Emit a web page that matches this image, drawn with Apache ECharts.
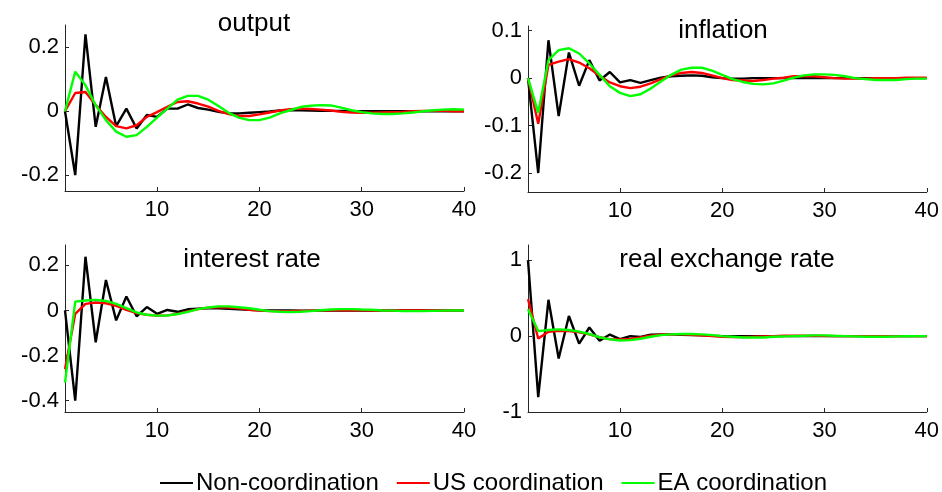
<!DOCTYPE html>
<html>
<head>
<meta charset="utf-8">
<script src="https://cdn.jsdelivr.net/npm/echarts@6/dist/echarts.min.js"></script>
<style>
html,body{margin:0;padding:0;background:#fff;}
#c{width:942px;height:492px;}
</style>
</head>
<body>
<div id="c"></div>
<script>
const periods = [1,2,3,4,5,6,7,8,9,10,11,12,13,14,15,16,17,18,19,20,21,22,23,24,25,26,27,28,29,30,31,32,33,34,35,36,37,38,39,40];
const xTicks = [10,20,30,40];
const seriesNames = ['Non-coordination','US coordination','EA coordination'];
const panelTitles = ['output','inflation','interest rate','real exchange rate'];

const outputNon = [0,-0.200,0.241,-0.049,0.107,-0.047,0.008,-0.054,-0.012,-0.018,0.008,0.008,0.021,0.010,0.005,-0.002,-0.007,-0.007,-0.005,-0.003,-0.001,0.002,0.003,0.003,0.002,0.001,0.001,0.001,0,0,0,0,0,0,0,0,0,0,0,0];
const outputUS = [0,0.057,0.060,0.019,-0.018,-0.047,-0.054,-0.044,-0.018,-0.003,0.014,0.029,0.031,0.024,0.014,0.001,-0.009,-0.015,-0.015,-0.010,-0.004,0.002,0.006,0.008,0.007,0.005,0.002,-0.002,-0.004,-0.005,-0.005,-0.004,-0.003,-0.002,0,0.001,0.001,0.001,0,0];
const outputEA = [0,0.124,0.081,0.019,-0.028,-0.064,-0.080,-0.075,-0.049,-0.020,0.008,0.036,0.048,0.048,0.036,0.016,-0.005,-0.020,-0.028,-0.028,-0.020,-0.007,0.003,0.013,0.017,0.019,0.018,0.011,0.003,-0.003,-0.007,-0.009,-0.009,-0.007,-0.004,0,0.003,0.005,0.006,0.005];

const inflNon = [0,-0.200,0.080,-0.080,0.054,-0.016,0.038,-0.005,0.013,-0.009,-0.004,-0.010,-0.004,0.001,0.004,0.005,0.006,0.005,0.002,0,-0.001,-0.001,0,0,0,0,0,0,0,0,0,0,0,0,0,0,0,0,0,0];
const inflUS = [0,-0.096,0.028,0.035,0.040,0.033,0.021,0.005,-0.009,-0.017,-0.021,-0.018,-0.011,-0.002,0.006,0.011,0.013,0.011,0.006,0,-0.004,-0.005,-0.006,-0.004,-0.001,0.001,0.004,0.004,0.004,0.002,0,-0.001,-0.001,-0.001,0,0,0,0.001,0.001,0.001];
const inflEA = [0,-0.073,0.038,0.059,0.063,0.052,0.031,0.007,-0.017,-0.031,-0.038,-0.034,-0.022,-0.007,0.007,0.018,0.022,0.022,0.016,0.007,-0.002,-0.008,-0.012,-0.013,-0.011,-0.005,0.001,0.006,0.008,0.008,0.007,0.004,0,-0.002,-0.004,-0.004,-0.004,-0.002,-0.001,-0.001];

const rateNon = [0,-0.400,0.238,-0.141,0.135,-0.044,0.062,-0.026,0.015,-0.015,0.002,-0.006,0.005,0.008,0.010,0.009,0.007,0.005,0.003,0.001,0,0,0,-0.001,-0.001,0,0,0,0,0,0,0,0,0,0,0,0,0,0,0];
const rateUS = [-0.260,-0.015,0.029,0.035,0.032,0.020,0.003,-0.012,-0.019,-0.023,-0.022,-0.015,-0.004,0.006,0.012,0.015,0.013,0.009,0.003,-0.001,-0.003,-0.003,-0.003,-0.002,-0.001,0.001,0.001,0.001,0.001,0.001,0,0,0,0,0,0,0,0,0,0];
const rateEA = [-0.320,0.039,0.044,0.047,0.042,0.029,0.010,-0.009,-0.019,-0.023,-0.023,-0.016,-0.006,0.006,0.013,0.018,0.018,0.014,0.010,0.003,-0.003,-0.006,-0.007,-0.006,-0.003,0.001,0.004,0.006,0.006,0.004,0.003,0,-0.001,-0.003,-0.003,-0.003,-0.002,-0.001,0,0];

const rerNon = [1.000,-0.805,0.478,-0.296,0.265,-0.100,0.113,-0.062,0.020,-0.040,0,-0.010,0.018,0.022,0.022,0.018,0.013,0.009,0.004,0,-0.002,-0.003,-0.003,-0.002,-0.001,0,0,0,0,0,0,0,0,0,0,0,0,0,0,0];
const rerUS = [0.487,-0.031,0.058,0.071,0.066,0.049,0.022,-0.015,-0.040,-0.044,-0.037,-0.018,0.004,0.018,0.022,0.022,0.018,0.009,0,-0.009,-0.013,-0.013,-0.009,-0.004,0,0.004,0.004,0.004,0.004,0.003,0,0,0,0,0,0,0,0,0,0];
const rerEA = [0.354,0.066,0.080,0.088,0.080,0.058,0.027,-0.015,-0.044,-0.058,-0.053,-0.035,-0.009,0.013,0.022,0.027,0.027,0.022,0.013,0,-0.009,-0.018,-0.018,-0.018,-0.009,-0.004,0,0.004,0.009,0.009,0.004,0,-0.004,-0.009,-0.009,-0.009,-0.004,-0.002,0,0];

const yTicks = [[-0.2,0,0.2],[-0.2,-0.1,0,0.1],[-0.4,-0.2,0,0.2],[-1,0,1]];
const yRanges = [[-0.25,0.27],[-0.24,0.11],[-0.45,0.29],[-1,1.2]];
const panelData = [
  [outputNon, outputUS, outputEA],
  [inflNon, inflUS, inflEA],
  [rateNon, rateUS, rateEA],
  [rerNon, rerUS, rerEA]
];

const colors = ['#000000','#ff0000','#00ff00'];
const FONT = '"Liberation Sans", Arial, sans-serif';
const grids = [
  {left:65, top:25, width:399, height:166},
  {left:528, top:26, width:399, height:166},
  {left:65, top:245, width:399, height:167},
  {left:528, top:245, width:399, height:167}
];
const titlePos = [[254,11],[723,18],[252,247],[727,247]];
const axisCol = '#262626';

const option = {
  animation:false,
  backgroundColor:'#fff',
  grid: grids,
  title: panelTitles.map((t,i)=>({
    text:t, left:titlePos[i][0], top:titlePos[i][1], textAlign:'center', padding:0,
    textStyle:{fontFamily:FONT, fontSize:26, fontWeight:'normal', color:'#000'}
  })),
  legend:{
    data: seriesNames.map((n,k)=>({name:n, icon:'rect', itemStyle:{color:colors[k]}})),
    left:160, top:471, itemWidth:33, itemHeight:2, itemGap:18,
    padding:0,
    textStyle:{fontFamily:FONT, fontSize:24, color:'#000', padding:[0,0,0,-2]}
  },
  xAxis: grids.map((g,i)=>({
    type:'value', gridIndex:i, min:1, max:40,
    axisLine:{show:true, onZero:false, lineStyle:{color:axisCol, width:1}},
    axisTick:{show:true, inside:true, length:4, customValues:xTicks, lineStyle:{color:axisCol}},
    axisLabel:{show:true, customValues:xTicks, margin:8, fontFamily:FONT, fontSize:22, color:'#000'},
    splitLine:{show:false}
  })),
  yAxis: grids.map((g,i)=>({
    type:'value', gridIndex:i, min:yRanges[i][0], max:yRanges[i][1],
    axisLine:{show:true, onZero:false, lineStyle:{color:axisCol, width:1}},
    axisTick:{show:true, inside:true, length:4, customValues:yTicks[i], lineStyle:{color:axisCol}},
    axisLabel:{show:true, customValues:yTicks[i], margin:6, fontFamily:FONT, fontSize:22, color:'#000',
      formatter:(v)=>String(Math.round(v*10)/10)},
    splitLine:{show:false}
  })),
  series: []
};

panelData.forEach((arrs,p)=>{
  arrs.forEach((vals,k)=>{
    option.series.push({
      type:'line', name:seriesNames[k], xAxisIndex:p, yAxisIndex:p,
      data: periods.map((t,j)=>[t, vals[j]]),
      symbol:'none', showSymbol:false,
      lineStyle:{color:colors[k], width:2.4},
      itemStyle:{color:colors[k]},
      z: 2+k
    });
  });
});

const chart = echarts.init(document.getElementById('c'), null, {renderer:'canvas'});
chart.setOption(option);
</script>
</body>
</html>
